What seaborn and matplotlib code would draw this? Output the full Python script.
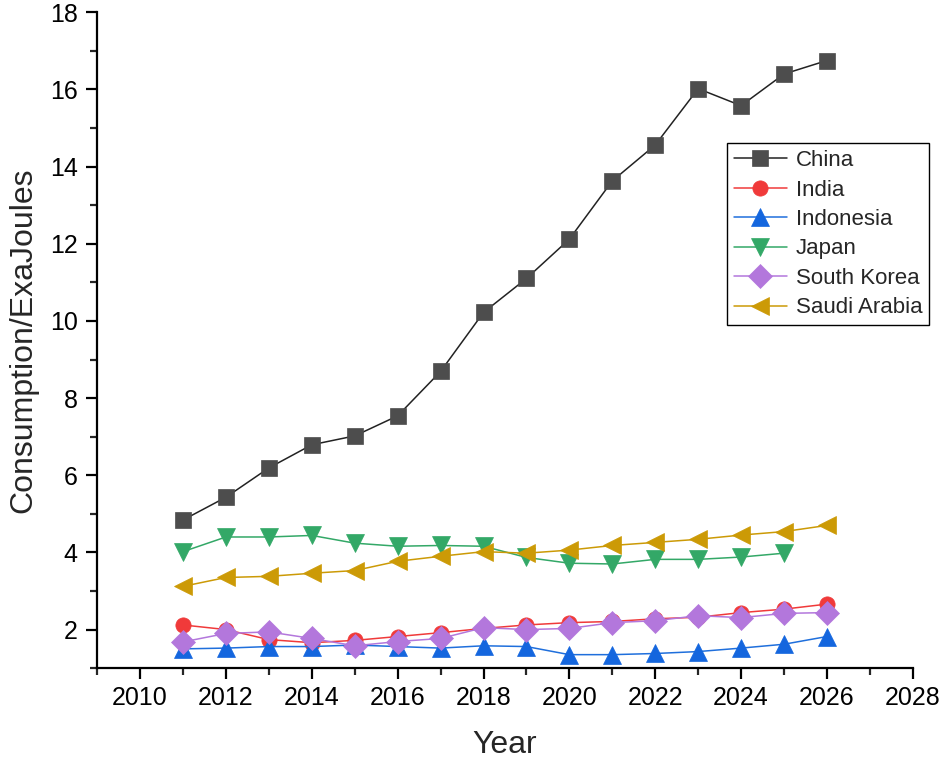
import matplotlib
matplotlib.use("Agg")
import matplotlib.pyplot as plt
import seaborn as sns
import pandas as pd
import numpy as np
from matplotlib.ticker import MultipleLocator

sns.set_style("white")
plt.rcParams['font.family'] = ['Liberation Sans', 'DejaVu Sans']

years = list(range(2011, 2027))
china = [4.84, 5.43, 6.19, 6.79, 7.02, 7.54, 8.69, 10.22, 11.1, 12.12, 13.63, 14.56, 16.02, 15.58, 16.4, 16.75]
india = [2.12, 2.0, 1.74, 1.66, 1.72, 1.82, 1.92, 2.03, 2.12, 2.18, 2.21, 2.28, 2.32, 2.44, 2.53, 2.66]
indonesia = [1.5, 1.52, 1.56, 1.56, 1.6, 1.56, 1.52, 1.58, 1.56, 1.35, 1.35, 1.38, 1.43, 1.52, 1.62, 1.82]
japan = [4.02, 4.4, 4.4, 4.44, 4.24, 4.16, 4.18, 4.16, 3.87, 3.72, 3.7, 3.82, 3.82, 3.88, 3.98, np.nan]
south_korea = [1.68, 1.9, 1.94, 1.77, 1.58, 1.69, 1.77, 2.05, 2.0, 2.03, 2.18, 2.23, 2.36, 2.31, 2.42, 2.44]
saudi = [3.12, 3.35, 3.38, 3.46, 3.53, 3.77, 3.9, 4.02, 3.98, 4.06, 4.18, 4.26, 4.34, 4.45, 4.54, 4.7]

series_names = ["China", "India", "Indonesia", "Japan", "South Korea", "Saudi Arabia"]
series_values = [china, india, indonesia, japan, south_korea, saudi]
line_colors = ["#222222", "#f03a3a", "#1f6fdc", "#33a867", "#b377dc", "#cc9a06"]
marker_colors = ["#4d4d4d", "#f03a3a", "#1466de", "#33a867", "#b377dc", "#cc9a06"]
markers = ["s", "o", "^", "v", "D", "<"]
msizes = [11, 11, 13, 13, 12, 13]

fig = plt.figure(figsize=(9.43, 7.68), dpi=100)
ax = fig.add_axes([0.103, 0.13, 0.865, 0.854])

for name, vals, lc, mc, mk, ms in zip(series_names, series_values, line_colors, marker_colors, markers, msizes):
    df = pd.DataFrame({"Year": years, "Value": vals}).dropna()
    sns.lineplot(data=df, x="Year", y="Value", ax=ax, color=lc, linewidth=1.1,
                 marker=mk, markersize=ms, markerfacecolor=mc, markeredgecolor=mc,
                 markeredgewidth=0.5, label=name)

ax.set_xlim(2009, 2028)
ax.set_ylim(1, 18)
ax.xaxis.set_minor_locator(MultipleLocator(1))
ax.yaxis.set_minor_locator(MultipleLocator(1))
ax.set_xticks(range(2010, 2029, 2))
ax.set_yticks(range(2, 19, 2))

for s in ["top", "right"]:
    ax.spines[s].set_visible(False)
for s in ["left", "bottom"]:
    ax.spines[s].set_color("black")
    ax.spines[s].set_linewidth(1.6)

ax.tick_params(which="major", direction="out", length=8, width=1.6, labelsize=18,
               colors="black", bottom=True, left=True, pad=6)
ax.tick_params(which="minor", direction="out", length=5, width=1.6,
               bottom=True, left=True)
ax.tick_params(axis="x", pad=5)

ax.set_xlabel("Year", fontsize=23, labelpad=14)
ax.set_ylabel("Consumption/ExaJoules", fontsize=23, labelpad=8)

leg = ax.legend(loc="upper left", bbox_to_anchor=(0.772, 0.80), fontsize=16,
                frameon=True, fancybox=False, edgecolor="black", framealpha=1,
                handlelength=2.4, borderpad=0.3, labelspacing=0.38, handletextpad=0.4,
                borderaxespad=0)
leg.get_frame().set_linewidth(1.0)

fig.savefig("out.png", dpi=100)
